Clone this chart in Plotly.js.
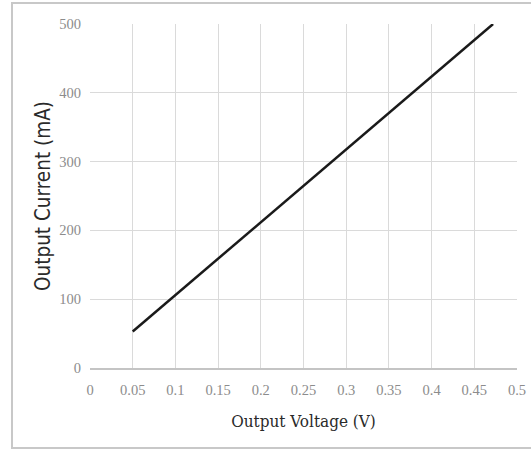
<!DOCTYPE html>
<html>
<head>
<meta charset="utf-8">
<script src="https://cdn.plot.ly/plotly-3.0.1.min.js"></script>
<style>
html,body{margin:0;padding:0;background:#fff;}
#wrap{position:relative;width:531px;height:450px;overflow:hidden;}
#frame{position:absolute;left:11px;top:2px;width:540px;height:447px;border:2px solid #c8c8c8;box-sizing:border-box;pointer-events:none;}
#chart{position:absolute;left:0;top:0;width:531px;height:450px;}
</style>
</head>
<body>
<div id="wrap">
<div id="chart"></div>
<div id="frame"></div>
</div>
<script>
// Data
const voltage = [0.05, 0.472];
const current = [53, 500];
const xTickVals = [0, 0.05, 0.1, 0.15, 0.2, 0.25, 0.3, 0.35, 0.4, 0.45, 0.5];
const xTickText = ["0", "0.05", "0.1", "0.15", "0.2", "0.25", "0.3", "0.35", "0.4", "0.45", "0.5"];
const yTickVals = [0, 100, 200, 300, 400, 500];
const yTickText = ["0", "100", "200", "300", "400", "500"];

const tickFamily = "Liberation Serif, DejaVu Serif, serif";
const xTitleFamily = "DejaVu Serif Condensed, DejaVu Serif, serif";
const yTitleFamily = "DejaVu Sans Condensed, DejaVu Sans, sans-serif";

Plotly.newPlot('chart', [{
  x: voltage,
  y: current,
  type: 'scatter',
  mode: 'lines',
  line: {color: '#1a1a1a', width: 2.5},
  hoverinfo: 'skip',
  showlegend: false
}], {
  width: 531,
  height: 450,
  margin: {l: 90, r: 14, t: 24, b: 82},
  paper_bgcolor: '#ffffff',
  plot_bgcolor: '#ffffff',
  xaxis: {
    range: [0, 0.5],
    tickvals: xTickVals,
    ticktext: xTickText,
    showgrid: true,
    gridcolor: '#dadada',
    gridwidth: 1,
    zeroline: false,
    showline: true,
    linecolor: '#c4c4c4',
    linewidth: 1.5,
    ticks: '',
    ticklabelstandoff: 8,
    tickfont: {family: tickFamily, size: 14.5, color: '#8c8c8c'},
    title: {text: 'Output Voltage (V)', font: {family: xTitleFamily, size: 17, color: '#2a2a2a'}, standoff: 18}
  },
  yaxis: {
    range: [0, 500],
    tickvals: yTickVals,
    ticktext: yTickText,
    showgrid: true,
    gridcolor: '#dadada',
    gridwidth: 1,
    zeroline: false,
    showline: false,
    ticks: '',
    ticklabelstandoff: 8,
    tickfont: {family: tickFamily, size: 14.5, color: '#8c8c8c'},
    title: {text: 'Output Current (mA)', font: {family: yTitleFamily, size: 20.5, color: '#2a2a2a'}, standoff: 3}
  }
}, {staticPlot: true, displayModeBar: false});
</script>
</body>
</html>
